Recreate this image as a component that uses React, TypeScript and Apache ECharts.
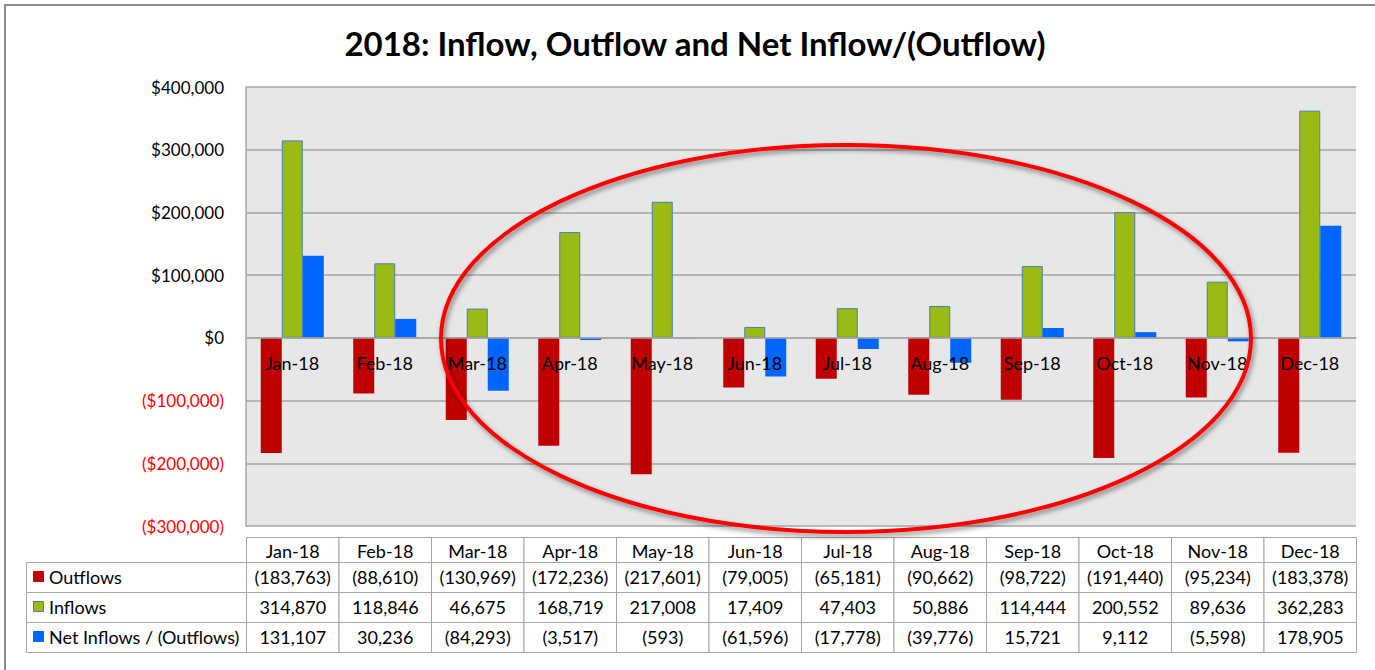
import React, { useEffect, useRef } from "react";
import * as echarts from "echarts";

const TITLE = "2018: Inflow, Outflow and Net Inflow/(Outflow)";
const months = ["Jan-18", "Feb-18", "Mar-18", "Apr-18", "May-18", "Jun-18", "Jul-18", "Aug-18", "Sep-18", "Oct-18", "Nov-18", "Dec-18"];
const outflows = [-183763, -88610, -130969, -172236, -217601, -79005, -65181, -90662, -98722, -191440, -95234, -183378];
const inflows = [314870, 118846, 46675, 168719, 217008, 17409, 47403, 50886, 114444, 200552, 89636, 362283];
const netFlows = [131107, 30236, -84293, -3517, -593, -61596, -17778, -39776, 15721, 9112, -5598, 178905];
const seriesNames = ["Outflows", "Inflows", "Net Inflows / (Outflows)"];
const yMin = -300000;
const yMax = 400000;
const yStep = 100000;

const COLORS = ["#c00000", "#99bb14", "#0066ff"];
const FONT = "Lato";

const fmtNum = (v: number) =>
  v < 0 ? `(${Math.abs(v).toLocaleString("en-US")})` : v.toLocaleString("en-US");
const fmtAxis = (v: number) =>
  v < 0 ? `($${Math.abs(v).toLocaleString("en-US")})` : `$${v.toLocaleString("en-US")}`;

export default function App() {
  const ref = useRef<HTMLDivElement>(null);
  useEffect(() => {
    if (!ref.current) return;
    const chart = echarts.init(ref.current, undefined, { renderer: "svg" });

    const gridLeft = 246;
    const gridRight = 1356;
    const gridTop = 87;
    const gridH = 439;
    const zeroOffset = (gridH * (0 - yMin)) / (yMax - yMin);
    const colW = (gridRight - gridLeft) / months.length;
    const headTop = 537.5;
    const headH = 25;
    const rowH = 30;
    const legLeft = 26.5;
    const lineColor = "#a6a6a6";
    const seriesData = [outflows, inflows, netFlows];
    const tableFont = `18px ${FONT}`;

    const graphics: any[] = [];
    graphics.push({
      type: "rect",
      shape: { x: 5, y: 5, width: 1400, height: 700 },
      style: { fill: "none", stroke: "#8c8c8c", lineWidth: 2 },
      z: 1,
    });
    months.forEach((m, i) => {
      const x = gridLeft + 0.5 + i * colW;
      graphics.push({
        type: "rect",
        shape: { x, y: headTop, width: colW, height: headH },
        style: { fill: "#fff", stroke: lineColor, lineWidth: 1 },
        z: 5,
      });
      graphics.push({
        type: "text",
        x: x + colW / 2,
        y: headTop + headH / 2 + 1,
        style: { text: m, fill: "#000", font: tableFont, align: "center", verticalAlign: "middle" },
        z: 6,
      });
    });
    seriesNames.forEach((name, r) => {
      const y = headTop + headH + r * rowH;
      graphics.push({
        type: "rect",
        shape: { x: legLeft, y, width: gridLeft + 0.5 - legLeft, height: rowH },
        style: { fill: "#fff", stroke: lineColor, lineWidth: 1 },
        z: 5,
      });
      graphics.push({
        type: "rect",
        shape: { x: 33.5, y: y + rowH / 2 - 6, width: 10, height: 10 },
        style: {
          fill: COLORS[r],
          stroke: r === 1 ? "#4a7ebb" : COLORS[r],
          lineWidth: 1,
        },
        z: 6,
      });
      graphics.push({
        type: "text",
        x: 49,
        y: y + rowH / 2 - 1,
        style: { text: name, fill: "#000", font: tableFont, align: "left", verticalAlign: "middle" },
        z: 6,
      });
      seriesData[r].forEach((v, i) => {
        const x = gridLeft + 0.5 + i * colW;
        graphics.push({
          type: "rect",
          shape: { x, y, width: colW, height: rowH },
          style: { fill: "#fff", stroke: lineColor, lineWidth: 1 },
          z: 5,
        });
        graphics.push({
          type: "text",
          x: x + colW / 2,
          y: y + rowH / 2 - 1,
          style: { text: fmtNum(v), fill: "#000", font: tableFont, align: "center", verticalAlign: "middle" },
          z: 6,
        });
      });
    });
    graphics.push({
      type: "ellipse",
      shape: { cx: 846, cy: 338.5, rx: 405, ry: 193.5 },
      style: {
        fill: "none",
        stroke: "#ff0000",
        lineWidth: 4,
        shadowBlur: 5,
        shadowColor: "rgba(0,0,0,0.45)",
        shadowOffsetX: 2,
        shadowOffsetY: 3,
      },
      z: 100,
    });

    chart.setOption({
      animation: false,
      backgroundColor: "#ffffff",
      textStyle: { fontFamily: FONT },
      title: {
        text: TITLE,
        left: 690,
        textAlign: "center",
        top: 21,
        textStyle: { fontFamily: FONT, fontSize: 33, fontWeight: "bold", color: "#000" },
      },
      grid: {
        left: gridLeft,
        right: 1375 - gridRight,
        top: gridTop,
        height: gridH,
        show: true,
        backgroundColor: "#e7e7e7",
        borderWidth: 0,
      },
      xAxis: {
        type: "category",
        data: months,
        position: "bottom",
        offset: -zeroOffset,
        z: 10,
        axisLine: { onZero: false, lineStyle: { color: "#a6a6a6", width: 1.5 } },
        axisTick: { show: false },
        axisLabel: { color: "#000", fontSize: 18, fontFamily: FONT, margin: 16 },
        splitLine: { show: false },
      },
      yAxis: {
        type: "value",
        min: yMin,
        max: yMax,
        interval: yStep,
        axisLine: { show: true, lineStyle: { color: "#a6a6a6", width: 1.5 } },
        axisTick: { show: false },
        splitLine: { show: true, lineStyle: { color: "#a6a6a6", width: 1.5 } },
        axisLabel: {
          formatter: (v: number) => fmtAxis(v),
          color: (v: any) => (Number(v) < 0 ? "#ff0000" : "#000000"),
          fontSize: 17,
          fontFamily: FONT,
          margin: 22,
        },
      },
      series: seriesNames.map((name, r) => ({
        name,
        type: "bar",
        data: seriesData[r],
        barWidth: 21,
        barGap: "0%",
        itemStyle: {
          color: COLORS[r],
          borderColor: r === 1 ? "#4a7ebb" : undefined,
          borderWidth: r === 1 ? 1 : 0,
        },
      })),
      graphic: graphics,
    });
    return () => chart.dispose();
  }, []);
  return (
    <div
      ref={ref}
      style={{ position: "fixed", left: 0, top: 0, width: 1375, height: 670 }}
    />
  );
}
